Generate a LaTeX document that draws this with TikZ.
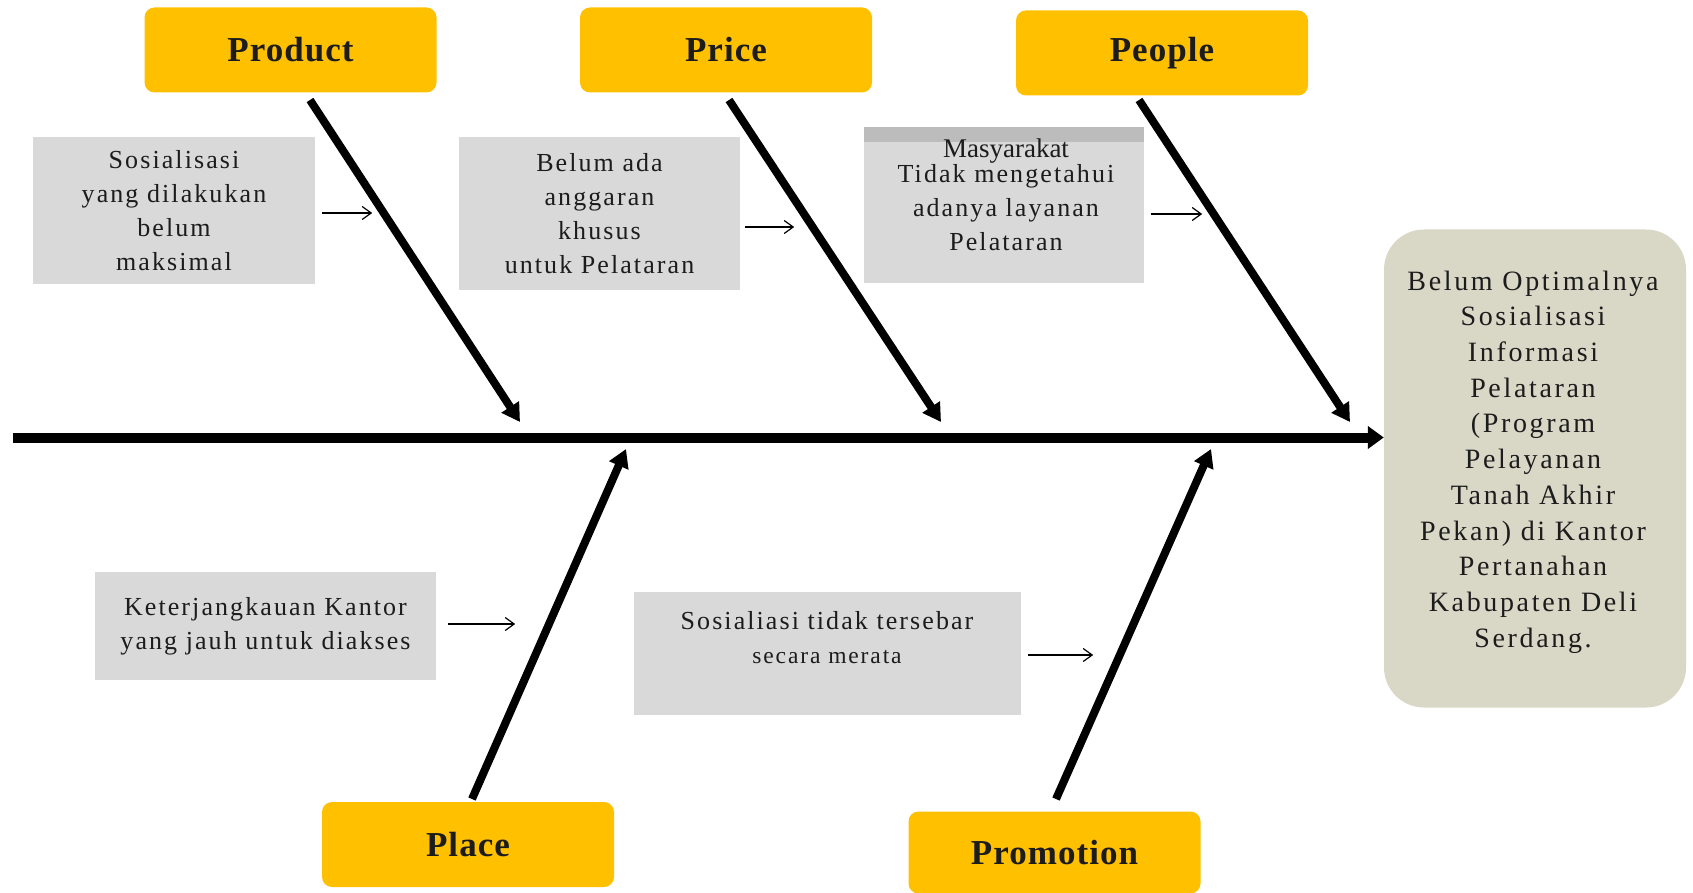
\documentclass[tikz,border=0pt]{standalone}
\usepackage{fontspec}
\setmainfont{Liberation Serif}
\newfontfamily\bodyfont{Liberation Serif}[LetterSpace=8]
\newfontfamily\catfont{Liberation Serif}[LetterSpace=3]
\newfontfamily\efffont{Liberation Serif}[LetterSpace=9.5]
\usetikzlibrary{arrows.meta}
\definecolor{gold}{HTML}{FFC000}
\definecolor{boxgray}{HTML}{D9D9D9}
\definecolor{stripgray}{HTML}{BCBCBC}
\definecolor{effectfill}{HTML}{D9D7C6}
\definecolor{ink}{HTML}{1C1C1C}
\begin{document}
\begin{tikzpicture}[x=1pt,y=-1pt,
  cat/.style={fill=gold, rounded corners=10pt, minimum width=292pt, minimum height=85pt, inner sep=0pt,
    text=ink, font=\catfont\bfseries\fontsize{35}{38}\selectfont},
  cause/.style={fill=boxgray, inner sep=0pt, align=center, text=ink,
    font=\bodyfont\fontsize{26}{34}\selectfont},
  txt/.style={inner sep=0pt, align=center, text=ink, font=\bodyfont\fontsize{26}{34}\selectfont},
  effect/.style={fill=effectfill, rounded corners=40pt, inner sep=0pt,
    minimum width=302pt, minimum height=478pt},
  efftext/.style={inner sep=0pt, align=center, text=ink, font=\efffont\fontsize{28}{35.7}\selectfont},
  bone/.style={line width=8pt, -{Triangle[length=18pt,width=20pt]}},
  spine/.style={line width=10pt, -{Triangle[length=16pt,width=22pt]}},
  small/.style={line width=1.2pt, -{Straight Barb[length=9pt,width=13pt]}},
]
\useasboundingbox (0,0) rectangle (1693,893);

% category boxes
\node[cat] (prod) at (290.5,50) {Product};
\node[cat] (price) at (726,50) {Price};
\node[cat] (people) at (1162,53) {People};
\node[cat] (place) at (468,844.5) {Place};
\node[cat, minimum height=82pt] (promo) at (1054.5,852.5) {Promotion};

% effect
\node[effect] (eff) at (1535,468.5) {};
\node[efftext] (efft) at (1533,462) {Belum Optimalnya\\Sosialisasi\\Informasi\\Pelataran\\(Program\\Pelayanan\\Tanah Akhir\\Pekan) di Kantor\\Pertanahan\\Kabupaten Deli\\Serdang.};

% cause boxes
\node[cause, minimum width=282pt, minimum height=147pt] (s1) at (174,210.5) {Sosialisasi\\yang dilakukan\\belum\\maksimal};
\node[cause, minimum width=281pt, minimum height=153pt] (s2) at (599.5,213.5) {Belum ada\\anggaran\\khusus\\untuk Pelataran};
\node[cause, minimum width=280pt, minimum height=156pt] (s3) at (1004,205) {};
\fill[stripgray] (s3.north west) rectangle ([yshift=-15pt]s3.north east);
\node[inner sep=0pt, text=ink, font=\fontsize{27}{30}\selectfont, anchor=base] (s3a) at (1006,158) {Masyarakat};
\node[txt] (s3b) at (1006,208) {Tidak mengetahui\\adanya layanan\\Pelataran};
\node[cause, minimum width=341pt, minimum height=108pt] (s4) at (265.5,626) {Keterjangkauan Kantor\\yang jauh untuk diakses};
\node[cause, minimum width=387pt, minimum height=123pt] (s5) at (827.5,653.5) {};
\node[txt] (s5t) at (827,638) {Sosialiasi tidak tersebar\\{\fontsize{23.5}{34}\selectfont secara merata}};

% spine
\coordinate (tail) at (13,437.5);
\draw[spine] (tail) -- (tail -| eff.west);

% bones
\coordinate (prodA) at (310,100);   \coordinate (prodB) at (520,422);
\coordinate (priceA) at (729,100);  \coordinate (priceB) at (941,422);
\coordinate (peopleA) at (1139,100); \coordinate (peopleB) at (1350,422);
\coordinate (placeA) at (472,799);  \coordinate (placeB) at (626,449);
\coordinate (promoA) at (1056,799); \coordinate (promoB) at (1211,449);
\draw[bone] (prodA) -- (prodB);
\draw[bone] (priceA) -- (priceB);
\draw[bone] (peopleA) -- (peopleB);
\draw[bone] (placeA) -- (placeB);
\draw[bone] (promoA) -- (promoB);

% small arrows
\draw[small] ([shift={(7pt,-2.5pt)}]s1.east) -- ++(50,0);
\draw[small] ([shift={(5pt,-13.5pt)}]s2.east) -- ++(49,0);
\draw[small] ([shift={(7pt,-9pt)}]s3.east) -- ++(51,0);
\draw[small] ([shift={(12pt,2pt)}]s4.east) -- ++(67,0);
\draw[small] ([shift={(7pt,-1.5pt)}]s5.east) -- ++(65,0);
\end{tikzpicture}
\end{document}
